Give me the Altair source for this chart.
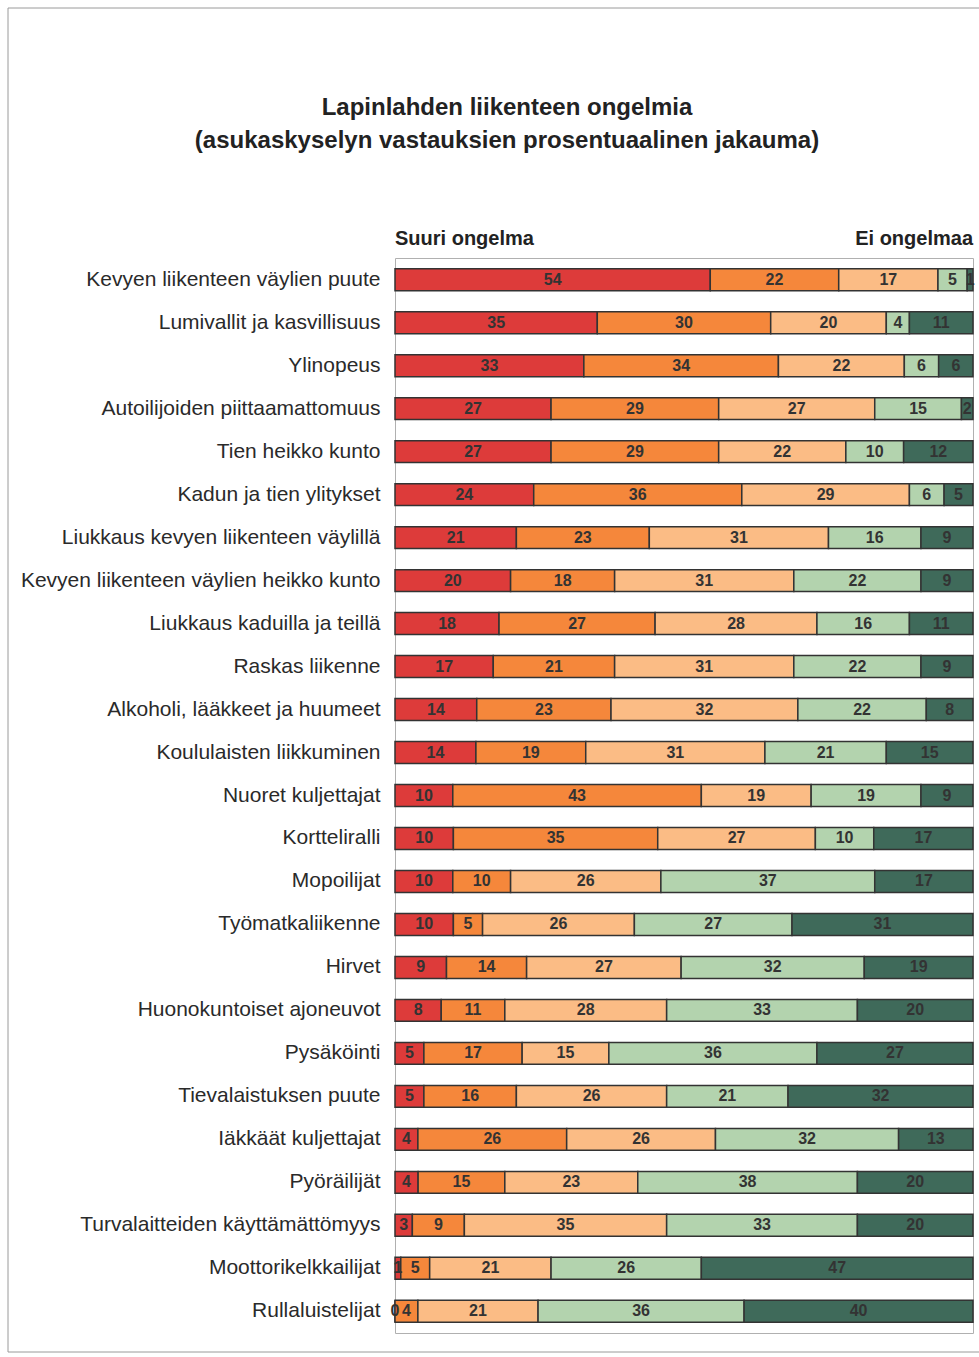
import altair as alt
import pandas as pd

# Survey items, top to bottom
items = [
    "Kevyen liikenteen väylien puute",
    "Lumivallit ja kasvillisuus",
    "Ylinopeus",
    "Autoilijoiden piittaamattomuus",
    "Tien heikko kunto",
    "Kadun ja tien ylitykset",
    "Liukkaus kevyen liikenteen väylillä",
    "Kevyen liikenteen väylien heikko kunto",
    "Liukkaus kaduilla ja teillä",
    "Raskas liikenne",
    "Alkoholi, lääkkeet ja huumeet",
    "Koululaisten liikkuminen",
    "Nuoret kuljettajat",
    "Kortteliralli",
    "Mopoilijat",
    "Työmatkaliikenne",
    "Hirvet",
    "Huonokuntoiset ajoneuvot",
    "Pysäköinti",
    "Tievalaistuksen puute",
    "Iäkkäät kuljettajat",
    "Pyöräilijät",
    "Turvalaitteiden käyttämättömyys",
    "Moottorikelkkailijat",
    "Rullaluistelijat",
]

# Answer shares (%) per level, from "big problem" to "no problem"
suuri = [54, 35, 33, 27, 27, 24, 21, 20, 18, 17, 14, 14, 10, 10, 10, 10, 9, 8, 5, 5, 4, 4, 3, 1, 0]
melko = [22, 30, 34, 29, 29, 36, 23, 18, 27, 21, 23, 19, 43, 35, 10, 5, 14, 11, 17, 16, 26, 15, 9, 5, 4]
jonkin = [17, 20, 22, 27, 22, 29, 31, 31, 28, 31, 32, 31, 19, 27, 26, 26, 27, 28, 15, 26, 26, 23, 35, 21, 21]
pieni = [5, 4, 6, 15, 10, 6, 16, 22, 16, 22, 22, 21, 19, 10, 37, 27, 32, 33, 36, 21, 32, 38, 33, 26, 36]
ei = [1, 11, 6, 2, 12, 5, 9, 9, 11, 9, 8, 15, 9, 17, 17, 31, 19, 20, 27, 32, 13, 20, 20, 47, 40]

levels = ["Suuri ongelma", "Melko suuri", "Jonkin verran", "Pieni", "Ei ongelmaa"]
colors = ["#dd3b3a", "#f5873b", "#fbbc85", "#b3d3ae", "#3f6a5a"]
series = [suuri, melko, jonkin, pieni, ei]

rows = []
for i, item in enumerate(items):
    vals = [s[i] for s in series]
    total = sum(vals)
    acc = 0
    for k, v in enumerate(vals):
        start = acc / total
        acc += v
        end = acc / total
        rows.append({
            "item": item, "level": levels[k], "order": k, "value": v,
            "start": start, "end": end, "mid": (start + end) / 2,
        })
df = pd.DataFrame(rows)

W, H = 578, 1075
PAD_L, PAD_T = 395, 258
FONT = "Liberation Sans"

x_scale = alt.Scale(domain=[0, 1], nice=False, zero=False)
y_enc = alt.Y(
    "item:N", sort=items,
    scale=alt.Scale(paddingInner=0.49, paddingOuter=0.25),
    axis=alt.Axis(title=None, ticks=False, domain=False, labelFont=FONT,
                  labelFontSize=21, labelColor="#2a2a2a", labelPadding=15,
                  labelLimit=420),
)

bars = alt.Chart(df).mark_bar(stroke="#333", strokeWidth=1.5).encode(
    x=alt.X("start:Q", scale=x_scale, axis=None),
    x2="end:Q",
    y=y_enc,
    color=alt.Color("level:N", scale=alt.Scale(domain=levels, range=colors), legend=None),
)

labels = alt.Chart(df).mark_text(
    font=FONT, fontSize=16, fontWeight="bold", color="#333", baseline="middle"
).encode(
    x=alt.X("mid:Q", scale=x_scale, axis=None),
    y=alt.Y("item:N", sort=items),
    text="value:Q",
)

one = pd.DataFrame({"t": ["Lapinlahden liikenteen ongelmia"]})
title1 = alt.Chart(one).mark_text(
    font=FONT, fontSize=24, fontWeight="bold", color="#222", align="center", baseline="alphabetic"
).encode(x=alt.value(507 - PAD_L), y=alt.value(115 - PAD_T), text="t:N")

two = pd.DataFrame({"t": ["(asukaskyselyn vastauksien prosentuaalinen jakauma)"]})
title2 = alt.Chart(two).mark_text(
    font=FONT, fontSize=24, fontWeight="bold", color="#222", align="center", baseline="alphabetic"
).encode(x=alt.value(507 - PAD_L), y=alt.value(148 - PAD_T), text="t:N")

left_end = alt.Chart(pd.DataFrame({"t": ["Suuri ongelma"]})).mark_text(
    font=FONT, fontSize=20, fontWeight="bold", color="#222", align="left", baseline="alphabetic"
).encode(x=alt.value(0), y=alt.value(245 - PAD_T), text="t:N")

right_end = alt.Chart(pd.DataFrame({"t": ["Ei ongelmaa"]})).mark_text(
    font=FONT, fontSize=20, fontWeight="bold", color="#222", align="right", baseline="alphabetic"
).encode(x=alt.value(W), y=alt.value(245 - PAD_T), text="t:N")

frame = alt.Chart(pd.DataFrame({"a": [0]})).mark_rect(
    fill=None, stroke="#9a9a9a", strokeWidth=1
).encode(
    x=alt.value(8 - PAD_L), x2=alt.value(1010 - PAD_L),
    y=alt.value(8 - PAD_T), y2=alt.value(1352 - PAD_T),
)

chart = alt.layer(frame, bars, labels, title1, title2, left_end, right_end).properties(
    width=W, height=H,
    autosize=alt.AutoSizeParams(type="none"),
    padding={"left": PAD_L, "top": PAD_T, "right": 979 - PAD_L - W, "bottom": 1357 - PAD_T - H},
    background="white",
).configure_view(stroke="#b0b0b0", strokeWidth=1)

chart.save("out.html", embed_options={"renderer": "svg", "actions": False})
